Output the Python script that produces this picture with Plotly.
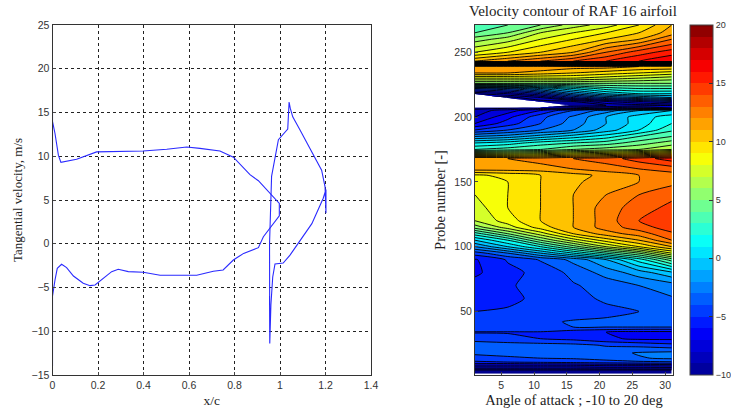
import plotly.graph_objects as go

# ---- left panel: tangential velocity along the airfoil ----
xc = [0, 0, 0, 0.011, 0.026, 0.037, 0.106, 0.194, 0.398, 0.502, 0.59, 0.648, 0.736, 0.795, 0.868,
      0.905, 0.963, 0.997, 0.997, 0.956, 0.927, 0.905, 0.84, 0.795, 0.75, 0.707, 0.634, 0.473, 0.399,
      0.333, 0.289, 0.26, 0.223, 0.187, 0.165, 0.135, 0.092, 0.062, 0.04, 0.021, 0.011, 0.0037, 0, 0]
vt = [20, -14, 14, 12.6, 10.1, 9.3, 9.65, 10.5, 10.6, 10.8, 11.05, 10.9, 10.6, 9.9, 7.9,
      7.2, 5.6, 4.6, 3.2, 1.8, 0.8, -0.45, -1.1, -1.86, -3, -3.15, -3.6, -3.6, -3.26,
      -3.19, -2.92, -3.19, -3.95, -4.71, -4.79, -4.52, -3.69, -2.73, -2.35, -2.81, -4.14, -5.86, -6, -14]
xc2 = [0.954, 0.955, 0.954, 0.963, 0.978, 0.993, 1.034, 1.04, 1.045, 1.056, 1.088, 1.132, 1.183, 1.198,
       1.202, 1.202, 1.19, 1.14, 1.08, 1.044, 1.014, 0.978, 0.968, 0.96, 0.955]
vt2 = [-6, -11.4, 0, 7.7, 10, 11.9, 13.1, 16.2, 15.5, 14.5, 13, 10.9, 8.4, 6.5,
       3.5, 6.2, 5.2, 2.3, 0.05, -1.3, -2.2, -2.3, -3.8, -7, -11.4]

# ---- right panel: velocity contour ----
angle_index = [1, 6, 11, 16, 21, 26, 31]
probe_number = [2, 5, 8, 11, 14, 18, 24, 29, 34, 38, 42, 50, 60, 70, 80, 90, 95, 100, 105, 110, 115, 120,
                130, 140, 150, 155, 160, 168, 175, 180, 185, 190, 195, 200, 205, 207, 209, 212, 215, 218, 222,
                226, 230, 234, 239, 241, 243, 250, 260, 265, 271]
N = None
velocity = [
    [-22, -22, -22, -22, -22, -22, -22],
    [-9.5, -9.5, -9.5, -9.5, -9.5, -9.5, -9.5],
    [-7.5, -7.5, -7.5, -7.5, -7.2, -7.2, -7],
    [-5.2, -5, -4.8, -4.6, -4.4, -4.2, -4.1],
    [-4.2, -4.1, -4, -3.9, -3.6, -3.1, -2.8],
    [-3.9, -3.8, -3.7, -3.6, -3.4, -2.9, -2.7],
    [-3.6, -3.6, -3.6, -3.7, -4.1, -4.3, -4.7],
    [-4.3, -4.6, -5, -5.3, -5.8, -6.2, -6.2],
    [-5.1, -5.1, -5.1, -5.6, -6, -6.3, -6.3],
    [-4, -4, -4, -4, -4, -4, -4],
    [-4.4, -4.4, -4.2, -3.9, -3.8, -3.7, -3.7],
    [-5, -4.9, -4.7, -4.5, -4.3, -4, -3.8],
    [-5.4, -5.2, -4.8, -4.4, -3.8, -3.4, -3.1],
    [-5.6, -5.1, -4.7, -4.1, -3.6, -3, -2.5],
    [-6.2, -5.3, -4.7, -3.7, -2.6, -1.5, -0.2],
    [-6.1, -4.9, -3.9, -2.7, -1, 1.5, 4.5],
    [-4.5, -3, -1, 1, 3, 5, 8],
    [-2, 0, 2, 4.5, 7, 9, 11],
    [0, 2, 5, 7.5, 9.5, 11, 13],
    [2.5, 5, 7.5, 10, 11.5, 12.5, 13.8],
    [5.5, 7.5, 9.5, 11, 12.5, 13.5, 14.6],
    [7, 8.5, 10, 11, 12.5, 14, 15],
    [7.5, 9, 10, 11, 12.5, 13.5, 14.3],
    [8, 9, 10, 11, 12, 13, 13.7],
    [8.3, 9, 10, 10.8, 11.5, 12, 12.7],
    [8.8, 9.3, 10, 10.6, 11.3, 12, 12.5],
    [11.5, 11.5, 11.5, 12, 12.5, 13, 13.5],
    [12, 12, 12.5, 13, 13.5, 14.5, 15.5],
    [3, 3.5, 4, 5, 5.5, 6, 7],
    [1, 1.5, 2.5, 3, 3.5, 4.5, 5.5],
    [-2, -1.5, -0.5, 0.5, 1.5, 3, 4],
    [-5, -4, -3, -2, -0.5, 1, 2.8],
    [-7, -5.5, -4, -2.5, -1, 0.5, 2],
    [-8, -6.3, -4.3, -2.8, -1, 0.5, 1.5],
    [-8.5, -7.5, -6, -4, -2.5, -1, 0],
    [-9.5, -9.2, -8.5, -8, -7, -6, -7],
    [N, N, N, -9.5, -9, -8.5, -8],
    [N, N, -9.5, -9, -7, -6, -5],
    [N, -9.5, -8, -5, -3, -2, -1],
    [-8, -7, -5, -2, 0, 1, 1],
    [-4, -3, -1, 1, 2.5, 3, 3],
    [5, 5, 5, 5, 5, 5, 5],
    [8, 8, 8, 8, 7.5, 7, 6.5],
    [11, 11, 10.5, 10, 9.5, 9, 8.5],
    [12, 12, 12, 11.5, 11.5, 11, 11],
    [2, 2, 2, 2, 2, 2, 2],
    [11, 12, 13, 14, 15, 16, 17],
    [8, 9, 10, 11, 13, 14.5, 15.5],
    [5.5, 6.5, 8, 9, 10, 11, 13],
    [4, 5, 7, 8, 9, 10, 11.5],
    [3, 4, 5, 6.5, 7.5, 9, 11],
]

W, H = 731, 408
SANS = "Liberation Sans"
SERIF = "Liberation Serif"
TXT = "#333333"
MATLAB_JET = [[0, "rgb(0,0,143)"], [0.125, "rgb(0,0,255)"], [0.375, "rgb(0,255,255)"],
              [0.625, "rgb(255,255,0)"], [0.875, "rgb(255,0,0)"], [1, "rgb(128,0,0)"]]

def dom(a, b, total):
    return [a / total, b / total]

fig = go.Figure()
line_style = dict(color="#2a2aff", width=1.1)
fig.add_trace(go.Scatter(x=xc, y=vt, mode="lines", line=line_style, showlegend=False, xaxis="x", yaxis="y"))
fig.add_trace(go.Scatter(x=xc2, y=vt2, mode="lines", line=line_style, showlegend=False, xaxis="x", yaxis="y"))

fig.add_trace(go.Contour(
    x=angle_index, y=probe_number, z=velocity, xaxis="x2", yaxis="y2",
    colorscale=MATLAB_JET, zmin=-10, zmax=20, autocontour=False, connectgaps=False,
    contours=dict(coloring="fill", showlines=False, start=-10, end=20, size=1),
    line=dict(width=0, smoothing=0.6),
    colorbar=dict(x=690 / W, xanchor="left", xref="paper", thickness=23, thicknessmode="pixels",
                  y=(408 - 375) / H, yanchor="bottom", len=350 / H, lenmode="fraction",
                  tickvals=[-10, -5, 0, 5, 10, 15, 20], ticks="inside", ticklen=4, tickcolor="#333333",
                  outlinecolor="#444444", outlinewidth=1, ypad=0, xpad=0,
                  tickfont=dict(family=SANS, size=9, color=TXT)),
))
fig.add_trace(go.Contour(
    x=angle_index, y=probe_number, z=velocity, xaxis="x2", yaxis="y2",
    showscale=False, autocontour=False, connectgaps=False, hoverinfo="skip",
    contours=dict(coloring="none", showlines=True, start=-10, end=20, size=1),
    line=dict(color="black", width=0.9, smoothing=0.6),
))

grid = dict(showgrid=True, gridcolor="#222222", griddash="3px,3px", gridwidth=1, zeroline=False)
axis_common = dict(showline=True, mirror=True, linecolor="#333333", linewidth=1,
                   tickfont=dict(family=SANS, size=10.5, color=TXT))
fig.update_layout(
    width=W, height=H, margin=dict(l=0, r=0, t=0, b=0, autoexpand=False),
    paper_bgcolor="white", plot_bgcolor="white", showlegend=False,
    title=dict(text="Velocity contour of RAF 16 airfoil", x=573 / W, xanchor="center",
               y=1 - 11 / H, yanchor="middle", font=dict(family=SERIF, size=15, color="#222222")),
    xaxis=dict(domain=dom(52.5, 371, W), range=[0, 1.4], tickvals=[0, .2, .4, .6, .8, 1, 1.2, 1.4],
               ticktext=["0", "0.2", "0.4", "0.6", "0.8", "1", "1.2", "1.4"], ticks="inside", ticklen=3,
               title=dict(text="x/c", standoff=6, font=dict(family=SERIF, size=13.5, color="#222222")),
               **grid, **axis_common),
    yaxis=dict(domain=dom(408 - 375, 408 - 25, H), range=[-15, 25], tickvals=list(range(-15, 30, 5)),
               ticks="inside", ticklen=3, anchor="x",
               title=dict(text="Tangential velocity, m/s", standoff=6, font=dict(family=SERIF, size=13, color="#222222")),
               **grid, **axis_common),
    xaxis2=dict(domain=dom(475, 673, W), range=[1, 31.2], tickvals=[5, 10, 15, 20, 25, 30], anchor="y2",
                ticks="inside", ticklen=3, showgrid=False, zeroline=False,
                title=dict(text="Angle of attack ; -10 to 20 deg", standoff=5,
                           font=dict(family=SERIF, size=14.5, color="#222222")),
                **axis_common),
    yaxis2=dict(domain=dom(408 - 375, 408 - 25, H), range=[1, 271], tickvals=[50, 100, 150, 200, 250], anchor="x2",
                ticks="inside", ticklen=3, showgrid=False, zeroline=False,
                title=dict(text="Probe number [-]", standoff=5, font=dict(family=SERIF, size=14.5, color="#222222")),
                **axis_common),
)
fig.write_html("out.html", config={"displayModeBar": False},
               post_script="document.body.style.margin='0';document.documentElement.style.overflow='hidden';")
